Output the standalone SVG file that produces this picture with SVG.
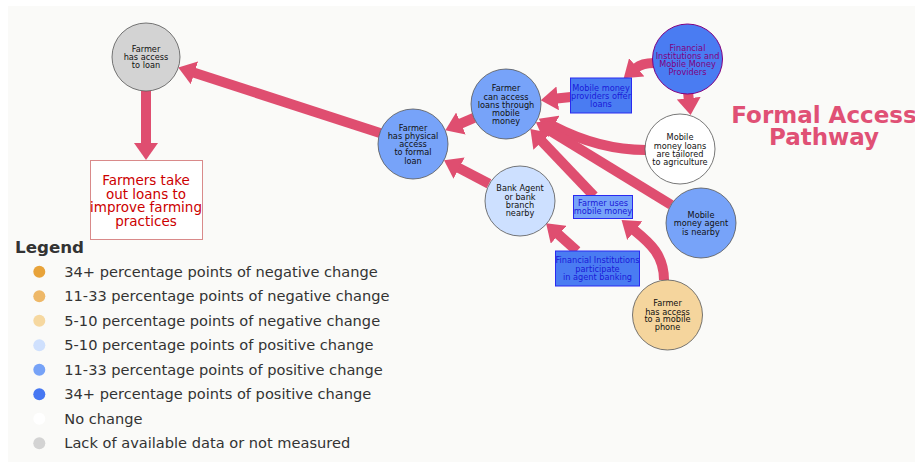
<svg xmlns="http://www.w3.org/2000/svg" width="915" height="466" viewBox="0 0 915 466">
  <style>
    .node { stroke: #555; stroke-width: 0.8; }
    .lbl { font-family: "DejaVu Sans", sans-serif; font-size: 8.2px; fill: #111; text-anchor: middle; }
    .blue-lbl { font-family: "DejaVu Sans", sans-serif; font-size: 8.2px; fill: #1a1ad8; text-anchor: middle; }
    .box { stroke: #2a2af0; stroke-width: 1; }
    .edge { fill: none; stroke: #df4e70; stroke-width: 10; }
    .legend { font-family: "DejaVu Sans", sans-serif; font-size: 14.6px; fill: #333; }
  </style>
  <defs>
    <marker id="head" viewBox="0 0 17 24" refX="1" refY="12" markerWidth="17" markerHeight="24" markerUnits="userSpaceOnUse" orient="auto">
      <path d="M0,0 L17,12 L0,24 z" fill="#df4e70"/>
    </marker>
  </defs>

  <rect x="8" y="6" width="907" height="456" fill="#fafaf8"/>

  <!-- connectors -->
  <g id="connectors">
    <path class="edge" d="M380,133 L193.5,72.5" marker-end="url(#head)"/>
    <path class="edge" d="M146,91 L146,144" marker-end="url(#head)"/>
    <path class="edge" d="M474,117.8 L460,123.9" marker-end="url(#head)"/>
    <path class="edge" d="M489,183.8 L458.2,167.6" marker-end="url(#head)"/>
    <path class="edge" d="M571,97 L556.7,98.5" marker-end="url(#head)"/>
    <path class="edge" d="M654,63 Q642,63 636,68" marker-end="url(#head)"/>
    <path class="edge" d="M688,92 L688.8,99.2" marker-end="url(#head)"/>
    <path class="edge" d="M646,150 C610,150 580,140 553,126" marker-end="url(#head)"/>
    <path class="edge" d="M671,204.8 L549.6,130.5" marker-end="url(#head)"/>
    <path class="edge" d="M594,196 L541.4,140.7" marker-end="url(#head)"/>
    <path class="edge" d="M577,251 L558,234" marker-end="url(#head)"/>
    <path class="edge" d="M664,280 C664,255 650,243 634,230" marker-end="url(#head)"/>
  </g>

  <g id="access-to-loan">
    <circle class="node" cx="146" cy="57" r="34" fill="#d3d3d3"/>
    <text class="lbl"><tspan x="146" y="52.2">Farmer</tspan><tspan x="146" y="60.2">has access</tspan><tspan x="146" y="68.2">to loan</tspan></text>
  </g>

  <g id="outcome">
    <rect x="90.5" y="160.5" width="112" height="79" fill="#fff" stroke="#d98a8a" stroke-width="1"/>
    <text font-family="DejaVu Sans, sans-serif" font-size="13.5" fill="#cc0000" text-anchor="middle"><tspan x="146" y="185">Farmers take</tspan><tspan x="146" y="198.5">out loans to</tspan><tspan x="146" y="212">improve farming</tspan><tspan x="146" y="225.5">practices</tspan></text>
  </g>

  <g id="physical-access">
    <circle class="node" cx="413" cy="144" r="35" fill="#77a3f9"/>
    <text class="lbl"><tspan x="413" y="130.6">Farmer</tspan><tspan x="413" y="138.9">has physical</tspan><tspan x="413" y="147.1">access</tspan><tspan x="413" y="155.3">to formal</tspan><tspan x="413" y="163.5">loan</tspan></text>
  </g>

  <g id="mobile-money-access">
    <circle class="node" cx="506" cy="104" r="35" fill="#77a3f9"/>
    <text class="lbl"><tspan x="506" y="91.2">Farmer</tspan><tspan x="506" y="99.5">can access</tspan><tspan x="506" y="107.8">loans through</tspan><tspan x="506" y="116.1">mobile</tspan><tspan x="506" y="124.4">money</tspan></text>
  </g>

  <g id="bank-agent">
    <circle class="node" cx="520" cy="201" r="35" fill="#cde0ff"/>
    <text class="lbl"><tspan x="520" y="191.2">Bank Agent</tspan><tspan x="520" y="199.5">or bank</tspan><tspan x="520" y="207.8">branch</tspan><tspan x="520" y="216.1">nearby</tspan></text>
  </g>

  <g id="providers">
    <circle cx="687.5" cy="59" r="35" fill="#4a7cf2" stroke="#800080" stroke-width="1"/>
    <text class="lbl" fill="#800080" style="fill:#800080"><tspan x="687.5" y="51.2">Financial</tspan><tspan x="687.5" y="59">Institutions and</tspan><tspan x="687.5" y="66.9">Mobile Money</tspan><tspan x="687.5" y="75.2">Providers</tspan></text>
  </g>

  <g id="offer-loans">
    <rect class="box" x="570.5" y="78" width="61" height="35" fill="#4a7cf2"/>
    <text class="blue-lbl"><tspan x="601" y="91.2">Mobile money</tspan><tspan x="601" y="98.9">providers offer</tspan><tspan x="601" y="106.9">loans</tspan></text>
  </g>

  <g id="tailored">
    <circle class="node" cx="680" cy="149" r="35" fill="#ffffff"/>
    <text class="lbl"><tspan x="680" y="140.2">Mobile</tspan><tspan x="680" y="148.5">money loans</tspan><tspan x="680" y="156.6">are tailored</tspan><tspan x="680" y="164.6">to agriculture</tspan></text>
  </g>

  <g id="agent-nearby">
    <circle class="node" cx="701" cy="223" r="35" fill="#77a3f9"/>
    <text class="lbl"><tspan x="701" y="217.9">Mobile</tspan><tspan x="701" y="226.2">money agent</tspan><tspan x="701" y="234.5">is nearby</tspan></text>
  </g>

  <g id="uses-mobile-money">
    <rect class="box" x="573.5" y="195.5" width="59" height="23" fill="#77a3f9"/>
    <text class="blue-lbl"><tspan x="603" y="205.6">Farmer uses</tspan><tspan x="603" y="213.9">mobile money</tspan></text>
  </g>

  <g id="agent-banking">
    <rect class="box" x="555.5" y="251" width="84" height="35" fill="#4a7cf2"/>
    <text class="blue-lbl"><tspan x="597.5" y="262.9">Financial Institutions</tspan><tspan x="597.5" y="271.6">participate</tspan><tspan x="597.5" y="279.9">in agent banking</tspan></text>
  </g>

  <g id="mobile-phone">
    <circle class="node" cx="667.5" cy="315" r="35" fill="#f5d59d"/>
    <text class="lbl"><tspan x="667.5" y="306.2">Farmer</tspan><tspan x="667.5" y="314.6">has access</tspan><tspan x="667.5" y="322.2">to a mobile</tspan><tspan x="667.5" y="330.2">phone</tspan></text>
  </g>

  <text x="824" y="123" font-family="DejaVu Sans, sans-serif" font-weight="bold" font-size="23" fill="#e05075" text-anchor="middle">Formal Access</text>
  <text x="824" y="145" font-family="DejaVu Sans, sans-serif" font-weight="bold" font-size="23" fill="#e05075" text-anchor="middle">Pathway</text>

  <g id="legend">
    <text x="15" y="253.3" font-family="DejaVu Sans, sans-serif" font-weight="bold" font-size="16.7" fill="#333">Legend</text>
    <circle cx="39.3" cy="271.7" r="6" fill="#e8a33a"/>
    <text class="legend" x="64.3" y="276.9">34+ percentage points of negative change</text>
    <circle cx="39.3" cy="296.2" r="6" fill="#eeb868"/>
    <text class="legend" x="64.3" y="301.4">11-33 percentage points of negative change</text>
    <circle cx="39.3" cy="320.7" r="6" fill="#f6d8a0"/>
    <text class="legend" x="64.3" y="325.9">5-10 percentage points of negative change</text>
    <circle cx="39.3" cy="345.2" r="6" fill="#cfe0fd"/>
    <text class="legend" x="64.3" y="350.4">5-10 percentage points of positive change</text>
    <circle cx="39.3" cy="369.7" r="6" fill="#76a2f7"/>
    <text class="legend" x="64.3" y="374.9">11-33 percentage points of positive change</text>
    <circle cx="39.3" cy="394.2" r="6" fill="#4677f2"/>
    <text class="legend" x="64.3" y="399.4">34+ percentage points of positive change</text>
    <circle cx="39.3" cy="418.7" r="6" fill="#ffffff"/>
    <text class="legend" x="64.3" y="423.9">No change</text>
    <circle cx="39.3" cy="443.2" r="6" fill="#d3d3d3"/>
    <text class="legend" x="64.3" y="448.4">Lack of available data or not measured</text>
  </g>
</svg>
